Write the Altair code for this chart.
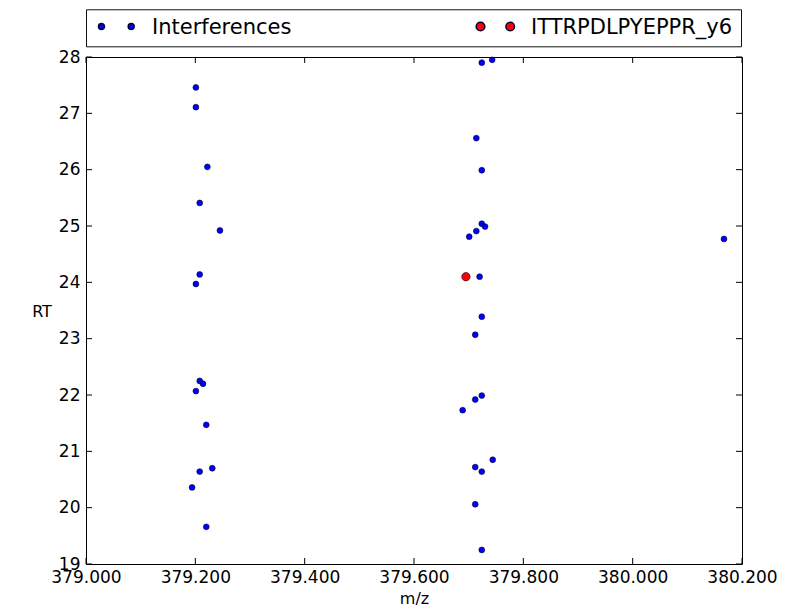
import altair as alt
import pandas as pd

# Interfering transitions (m/z, retention time)
interf_mz = [
    379.201, 379.201, 379.222, 379.208, 379.245, 379.208, 379.201,
    379.208, 379.214, 379.201, 379.220, 379.231, 379.208, 379.194, 379.220,
    379.724, 379.743, 379.714, 379.724, 379.724, 379.730, 379.714, 379.701,
    379.720, 379.724, 379.712, 379.724, 379.712, 379.689, 379.744, 379.712,
    379.724, 379.712, 379.724,
    380.167,
]
interf_rt = [
    27.46, 27.11, 26.05, 25.41, 24.92, 24.14, 23.97,
    22.25, 22.20, 22.07, 21.47, 20.70, 20.64, 20.36, 19.66,
    27.90, 27.95, 26.56, 25.99, 25.04, 24.99, 24.91, 24.81,
    24.10, 23.39, 23.07, 21.99, 21.92, 21.73, 20.85, 20.72,
    20.64, 20.06, 19.25,
    24.77,
]

# Target transition
target_name = "ITTRPDLPYEPPR_y6"
target_mz = [379.695]
target_rt = [24.10]

series_names = ["Interferences", target_name]
series_colors = ["#0000ff", "#ff0000"]

x_ticks = [379.0, 379.2, 379.4, 379.6, 379.8, 380.0, 380.2]
y_ticks = [19, 20, 21, 22, 23, 24, 25, 26, 27, 28]

W, H = 656, 507
TICK = 6

df = pd.DataFrame({
    "mz": interf_mz + target_mz,
    "rt": interf_rt + target_rt,
    "series": ["Interferences"] * len(interf_mz) + [target_name] * len(target_mz),
})


def dots(cx_list, r, cy=-0.18):
    parts = []
    for cx in cx_list:
        parts.append(
            f"M {cx + r} {cy} A {r} {r} 0 1 1 {cx - r} {cy} "
            f"A {r} {r} 0 1 1 {cx + r} {cy} Z"
        )
    return " ".join(parts)


legend_shapes = [dots([-0.35, 2.62], 0.30), dots([-0.35, 2.62], 0.43)]

font = "DejaVu Sans"
x_scale = alt.Scale(domain=[379.0, 380.2], nice=False, zero=False)
y_scale = alt.Scale(domain=[19, 28], nice=False, zero=False)
x_axis = alt.Axis(values=x_ticks, format=".3f", grid=False, domain=False,
                  ticks=False, labelPadding=5, titlePadding=5,
                  labelFlush=False, labelOverlap=False)
y_axis = alt.Axis(values=y_ticks, format="d", grid=False, domain=False,
                  ticks=False, labelPadding=6, titleAngle=0,
                  labelFlush=False, labelOverlap=False,
                  titleAlign="center", titleBaseline="middle",
                  titleX=-44.5, titleY=H / 2 + 1)

x_enc = alt.X("mz:Q", scale=x_scale, axis=x_axis, title="m/z")
y_enc = alt.Y("rt:Q", scale=y_scale, axis=y_axis, title="RT")

legend = alt.Legend(
    title=None, orient="none", legendX=0, legendY=-47.7,
    direction="horizontal", columns=2, columnPadding=181,
    symbolSize=400, labelOffset=36, padding=8, labelLimit=500,
    strokeColor="#111111", fillColor="white",
    labelFontSize=21, labelFont=font, labelColor="black",
)
color_enc = alt.Color("series:N", scale=alt.Scale(domain=series_names,
                                                  range=series_colors),
                      legend=legend)

# legend-only layer: carries the two-dot legend glyphs, draws no points
legend_layer = alt.Chart(df).transform_filter("false").mark_point(
    filled=True, opacity=1, strokeWidth=0.25, stroke="#000033"
).encode(
    x=x_enc, y=y_enc, color=color_enc,
    shape=alt.Shape("series:N", scale=alt.Scale(domain=series_names,
                                                range=legend_shapes),
                    legend=legend),
)

points = alt.Chart(df).mark_circle(
    opacity=1, stroke="#000022", strokeWidth=0.6
).encode(
    x=x_enc, y=y_enc, color=color_enc,
    size=alt.condition(alt.datum.series == "Interferences",
                       alt.value(34), alt.value(70)),
    order=alt.Order("series:N", sort="descending"),
)

xt = pd.DataFrame({"mz": x_ticks})
yt = pd.DataFrame({"rt": y_ticks})
tick_style = dict(color="black", strokeWidth=1)
x_bottom = alt.Chart(xt).mark_rule(**tick_style).encode(
    x=x_enc, y=alt.value(H), y2=alt.value(H - TICK))
x_top = alt.Chart(xt).mark_rule(**tick_style).encode(
    x=x_enc, y=alt.value(0), y2=alt.value(TICK))
y_left = alt.Chart(yt).mark_rule(**tick_style).encode(
    y=y_enc, x=alt.value(0), x2=alt.value(TICK))
y_right = alt.Chart(yt).mark_rule(**tick_style).encode(
    y=y_enc, x=alt.value(W), x2=alt.value(W - TICK))

chart = alt.layer(
    legend_layer, x_bottom, x_top, y_left, y_right, points
).properties(
    width=W, height=H,
    autosize=alt.AutoSizeParams(type="none"),
    padding={"left": 86, "top": 57, "right": 789 - 86 - W, "bottom": 606 - 57 - H},
    background="white",
).configure_view(
    stroke="black", strokeWidth=1
).configure_axis(
    labelFont=font, labelFontSize=17, labelColor="black",
    titleFont=font, titleFontSize=16, titleColor="black",
    titleFontWeight="normal",
)

chart.save("out.html", embed_options={"renderer": "svg", "actions": False})
